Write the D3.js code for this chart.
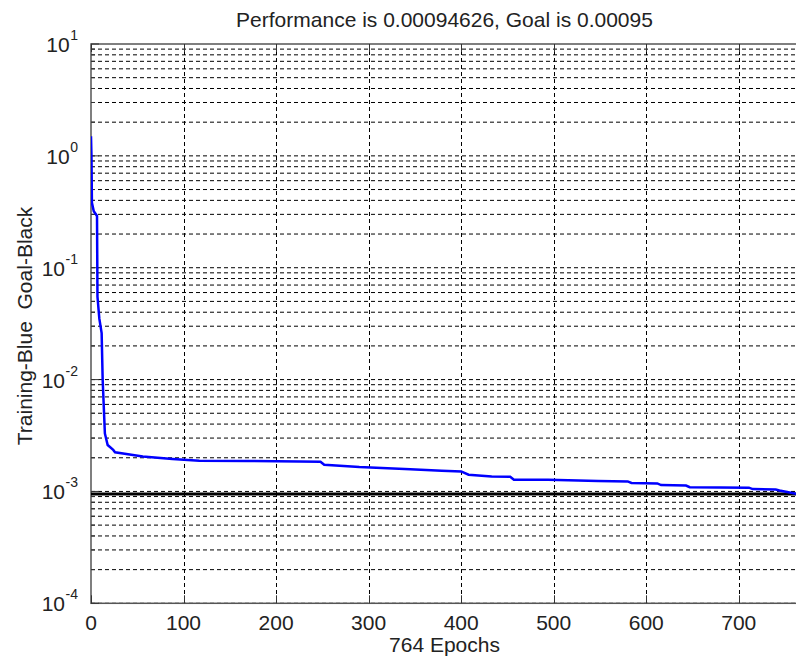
<!DOCTYPE html>
<html>
<head>
<meta charset="utf-8">
<script src="https://cdn.jsdelivr.net/npm/d3@7/dist/d3.min.js"></script>
<style>
html,body{margin:0;padding:0;background:#fff;}
svg{display:block;}
text{font-family:"Liberation Sans",Arial,sans-serif;fill:#222;}
</style>
</head>
<body>
<svg id="chart" width="796" height="665"></svg>
<script>
// ---- data ----
const epochs = [0,0.5,1,3,6.5,7,9,11.5,12.6,15,18,24,26,40,56,88,117,170,225,248,252,290,345,379,400,408,433,453,457,494,548,580,584,612,616,643,647,711,715,740,744,764];
const perf   = [1.5,1.0,0.38,0.32,0.29,0.055,0.035,0.026,0.010,0.0033,0.0026,0.00235,0.00224,0.00215,0.00205,0.00195,0.00188,0.00187,0.00185,0.00184,0.00173,0.00165,0.00158,0.00153,0.00151,0.00141,0.00136,0.00135,0.00127,0.00127,0.00124,0.00123,0.00119,0.00118,0.00114,0.00113,0.00109,0.00108,0.00105,0.00104,0.00102,0.00094626];
const goal = 0.00095;
const xTicks = [0,100,200,300,400,500,600,700];
const yExponents = [-4,-3,-2,-1,0,1];
const titleText = "Performance is 0.00094626, Goal is 0.00095";
const xLabelText = "764 Epochs";
const yLabelText = "Training-Blue  Goal-Black";

// ---- layout ----
const L = 91, R = 798, T = 44, B = 603.3;
const svg = d3.select("#chart");
const x = d3.scaleLinear().domain([0,764]).range([L,R]);
const y = d3.scaleLog().domain([1e-4,1e1]).range([B,T]);

svg.append("clipPath").attr("id","clip").append("rect")
  .attr("x",L).attr("y",T).attr("width",R-L).attr("height",B-T);

// grid
const gridVals = [];
yExponents.forEach(e => {
  if (e < 1) for (let m=1;m<=9;m++) gridVals.push(m*Math.pow(10,e));
});
const grid = svg.append("g");
grid.selectAll("line.h").data(gridVals).join("line")
  .attr("x1",L).attr("x2",R)
  .attr("y1",d=>y(d)).attr("y2",d=>y(d))
  .attr("stroke","#000").attr("stroke-width",1)
  .attr("stroke-dasharray","4,3");
grid.selectAll("line.v").data(xTicks.filter(d=>d>0)).join("line")
  .attr("y1",T).attr("y2",B)
  .attr("x1",d=>Math.round(x(d))+0.5).attr("x2",d=>Math.round(x(d))+0.5)
  .attr("stroke","#000").attr("stroke-width",1)
  .attr("stroke-dasharray","4,3");

// axes box
svg.append("rect").attr("x",L).attr("y",T).attr("width",R-L).attr("height",B-T)
  .attr("fill","none").attr("stroke","#555").attr("stroke-width",1.5);

// ticks (inside)
const tk = svg.append("g").attr("stroke","#333").attr("stroke-width",1);
xTicks.forEach(d=>{
  const px = Math.round(x(d))+0.5;
  tk.append("line").attr("x1",px).attr("x2",px).attr("y1",B).attr("y2",B-8);
  tk.append("line").attr("x1",px).attr("x2",px).attr("y1",T).attr("y2",T+8);
});
gridVals.concat([10]).forEach(d=>{
  const major = Math.abs(Math.log10(d)-Math.round(Math.log10(d)))<1e-9;
  tk.append("line").attr("x1",L).attr("x2",L+(major?8:4)).attr("y1",y(d)).attr("y2",y(d));
});

// goal line
svg.append("line").attr("clip-path","url(#clip)")
  .attr("x1",L).attr("x2",R).attr("y1",y(goal)).attr("y2",y(goal))
  .attr("stroke","#000").attr("stroke-width",3);

// training line
const pts = epochs.map((e,i)=>[e,perf[i]]);
svg.append("path").attr("clip-path","url(#clip)")
  .datum(pts)
  .attr("d", d3.line().x(d=>x(d[0])).y(d=>y(d[1])))
  .attr("fill","none").attr("stroke","#0000ff").attr("stroke-width",2.5);

// x tick labels
svg.append("g").selectAll("text").data(xTicks).join("text")
  .attr("x",d=>x(d)).attr("y",630)
  .attr("text-anchor","middle").attr("font-size",21)
  .text(d=>d);

// y tick labels
const yl = svg.append("g");
yExponents.forEach(e=>{
  const py = y(Math.pow(10,e));
  const ex = yl.append("text").attr("x",78).attr("y",py-4)
    .attr("text-anchor","end").attr("font-size",14).text(e);
  const w = ex.node().getComputedTextLength();
  yl.append("text").attr("x",78-w-0.5).attr("y",py+8)
    .attr("text-anchor","end").attr("font-size",21).text("10");
});

// title
svg.append("text").attr("x",(L+R)/2).attr("y",27)
  .attr("text-anchor","middle").attr("font-size",21).text(titleText);
// x label
svg.append("text").attr("x",(L+R)/2).attr("y",652)
  .attr("text-anchor","middle").attr("font-size",21).text(xLabelText);
// y label
svg.append("text").attr("transform","translate(32,326) rotate(-90)")
  .attr("text-anchor","middle").attr("font-size",21)
  .style("white-space","pre").text(yLabelText);
</script>
</body>
</html>
